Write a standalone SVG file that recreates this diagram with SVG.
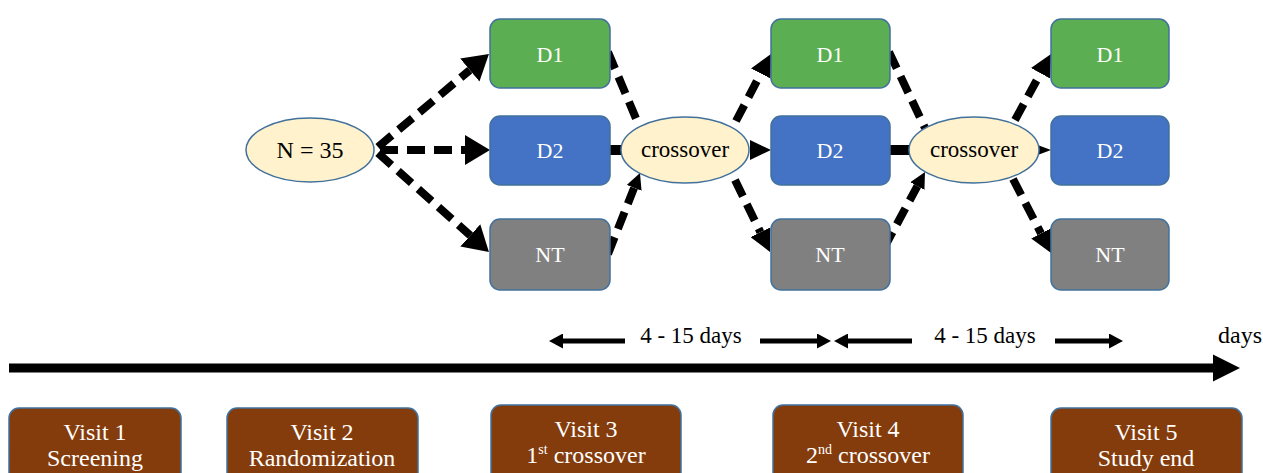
<svg xmlns="http://www.w3.org/2000/svg" width="1263" height="473" viewBox="0 0 1263 473">
<style>
.t{font-family:"Liberation Serif","Times New Roman",serif;text-anchor:middle}
.w{fill:#ffffff}
.k{fill:#000000}
.box{stroke:#41719C;stroke-width:1.5}
.g{fill:#5BAF52}
.b{fill:#4472C4}
.n{fill:#808080}
.br{fill:#843C0C}
.el{fill:#FFF2CC;stroke:#41719C;stroke-width:1.5}
.dash{fill:none;stroke:#000;stroke-width:8;stroke-dasharray:18 9}
.solid{fill:none;stroke:#000}
</style>
<defs>
<marker id="hBig" markerUnits="userSpaceOnUse" markerWidth="26" markerHeight="30" refX="0" refY="15" orient="auto"><path d="M0,0 L25,15 L0,30 z" fill="#000"/></marker>
<marker id="hMid" markerUnits="userSpaceOnUse" markerWidth="23" markerHeight="22" refX="0" refY="11" orient="auto"><path d="M0,0 L22,11 L0,22 z" fill="#000"/></marker>
<marker id="hSm" markerUnits="userSpaceOnUse" markerWidth="17" markerHeight="16" refX="0" refY="8" orient="auto"><path d="M0,0 L16,8 L0,16 z" fill="#000"/></marker>
<marker id="hDay" markerUnits="userSpaceOnUse" markerWidth="15" markerHeight="15" refX="0" refY="7.5" orient="auto"><path d="M0,0 L14,7.5 L0,15 z" fill="#000"/></marker>
</defs>
<rect width="1263" height="473" fill="#ffffff"/>
<g id="connectors">
<path class="dash" d="M378,147 L469.8,70.1" marker-end="url(#hBig)"/>
<path class="dash" d="M380,150 L465,150" marker-end="url(#hBig)"/>
<path class="dash" d="M378,153 L470.3,235.4" marker-end="url(#hBig)"/>
<path class="dash" d="M608,52 L640,128"/>
<path class="solid" stroke-width="10" d="M610,150 L624,150"/>
<path class="dash" d="M608,254 L634.1,187.9" marker-end="url(#hSm)"/>
<path class="dash" d="M736,121 L760.8,73.5" marker-end="url(#hMid)"/>
<polygon points="750,140 771,150 750,160" fill="#000"/>
<path class="dash" d="M735,180 L760.4,232.2" marker-end="url(#hMid)"/>
<path class="dash" d="M889,52 L925,128"/>
<path class="solid" stroke-width="10" d="M890,150 L911,150"/>
<path class="dash" d="M884,248 L917.4,186.1" marker-end="url(#hSm)"/>
<path class="dash" d="M1015,120 L1040.5,73.3" marker-end="url(#hMid)"/>
<polygon points="1039,145.5 1051,150 1039,154.5" fill="#000"/>
<path class="dash" d="M1013,179 L1041,233.4" marker-end="url(#hMid)"/>
<path class="solid" stroke-width="9" d="M9,368 L1215,368"/>
<polygon points="1213,354.5 1240,368 1213,381.5" fill="#000"/>
<path class="solid" stroke-width="5" d="M625,341 L563,341" marker-end="url(#hDay)"/>
<path class="solid" stroke-width="5" d="M760,341 L817,341" marker-end="url(#hDay)"/>
<path class="solid" stroke-width="5" d="M912,341 L848,341" marker-end="url(#hDay)"/>
<path class="solid" stroke-width="5" d="M1055,341 L1109,341" marker-end="url(#hDay)"/>
</g>
<g id="n35"><ellipse class="el" cx="310" cy="150" rx="64" ry="32"/><text class="t k" x="310" y="158" font-size="24">N = 35</text></g>
<g id="d1a"><rect class="box g" x="490" y="19" width="120" height="69" rx="10"/><text class="t w" x="550" y="62" font-size="22">D1</text></g>
<g id="d2a"><rect class="box b" x="490" y="116" width="120" height="69" rx="10"/><text class="t w" x="550" y="158" font-size="22">D2</text></g>
<g id="nta"><rect class="box n" x="490" y="219" width="120" height="71" rx="10"/><text class="t w" x="550" y="262" font-size="22">NT</text></g>
<g id="cross1"><ellipse class="el" cx="685" cy="150" rx="64" ry="33"/><text class="t k" x="685" y="157" font-size="23">crossover</text></g>
<g id="d1b"><rect class="box g" x="771" y="19" width="119" height="69" rx="10"/><text class="t w" x="830" y="62" font-size="22">D1</text></g>
<g id="d2b"><rect class="box b" x="771" y="116" width="119" height="69" rx="10"/><text class="t w" x="830" y="158" font-size="22">D2</text></g>
<g id="ntb"><rect class="box n" x="771" y="219" width="119" height="71" rx="10"/><text class="t w" x="830" y="262" font-size="22">NT</text></g>
<g id="cross2"><ellipse class="el" cx="974" cy="150" rx="65" ry="33"/><text class="t k" x="974" y="157" font-size="23">crossover</text></g>
<g id="d1c"><rect class="box g" x="1051" y="19" width="118" height="69" rx="10"/><text class="t w" x="1110" y="62" font-size="22">D1</text></g>
<g id="d2c"><rect class="box b" x="1051" y="116" width="118" height="69" rx="10"/><text class="t w" x="1110" y="158" font-size="22">D2</text></g>
<g id="ntc"><rect class="box n" x="1051" y="219" width="118" height="71" rx="10"/><text class="t w" x="1110" y="262" font-size="22">NT</text></g>
<g id="labels">
<text class="t k" x="691" y="343" font-size="23">4 - 15 days</text>
<text class="t k" x="985" y="343" font-size="23">4 - 15 days</text>
<text class="k" x="1218" y="343" font-size="24" font-family="Liberation Serif, serif">days</text>
</g>
<g id="visit1"><rect class="box br" x="9" y="408" width="172" height="80" rx="10"/><text class="t w" x="95" y="440" font-size="24">Visit 1</text><text class="t w" x="95" y="466" font-size="24">Screening</text></g>
<g id="visit2"><rect class="box br" x="227" y="408" width="191" height="80" rx="10"/><text class="t w" x="322" y="440" font-size="24">Visit 2</text><text class="t w" x="322" y="466" font-size="24">Randomization</text></g>
<g id="visit3"><rect class="box br" x="491" y="405" width="190" height="80" rx="10"/><text class="t w" x="586" y="437" font-size="24">Visit 3</text><text class="t w" x="586" y="463" font-size="24">1<tspan font-size="14" dy="-9">st</tspan><tspan dy="9"> crossover</tspan></text></g>
<g id="visit4"><rect class="box br" x="773" y="405" width="190" height="80" rx="10"/><text class="t w" x="868" y="437" font-size="24">Visit 4</text><text class="t w" x="868" y="463" font-size="24">2<tspan font-size="14" dy="-9">nd</tspan><tspan dy="9"> crossover</tspan></text></g>
<g id="visit5"><rect class="box br" x="1051" y="408" width="191" height="80" rx="10"/><text class="t w" x="1146" y="440" font-size="24">Visit 5</text><text class="t w" x="1146" y="466" font-size="24">Study end</text></g>
</svg>
